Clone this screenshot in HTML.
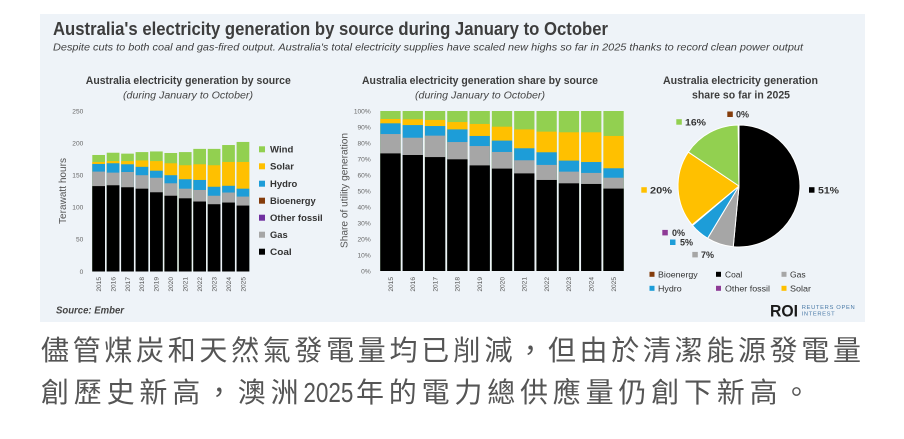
<!DOCTYPE html>
<html>
<head>
<meta charset="utf-8">
<style>
html,body{margin:0;padding:0;background:#fff;}
svg{display:block;}
text{font-family:"Liberation Sans",sans-serif;}
.cjk{font-family:"Liberation Sans","Noto Sans CJK TC",sans-serif;}
.tk{font-size:6.6px;fill:#666;}
.yr{font-size:6.6px;fill:#555;}
.lg{font-size:9.5px;font-weight:bold;fill:#333;}
.pl{font-size:9px;font-weight:bold;fill:#333;}
.pg{font-size:8.5px;fill:#333;}
</style>
</head>
<body>
<svg width="904" height="439" viewBox="0 0 904 439" xmlns="http://www.w3.org/2000/svg">
<rect x="40" y="14" width="825" height="308" fill="#eef3f8"/>

<text x="53" y="35" font-size="18.5" font-weight="bold" fill="#3d3d3d" textLength="555" lengthAdjust="spacingAndGlyphs">Australia's electricity generation by source during January to October</text>
<text x="53" y="50.5" font-size="10.5" font-style="italic" fill="#404040" textLength="750" lengthAdjust="spacingAndGlyphs">Despite cuts to both coal and gas-fired output. Australia's total electricity supplies have scaled new highs so far in 2025 thanks to record clean power output</text>

<!-- chart titles -->
<text x="188.3" y="84" text-anchor="middle" font-size="11" font-weight="bold" fill="#3d3d3d" textLength="205" lengthAdjust="spacingAndGlyphs">Australia electricity generation by source</text>
<text x="188" y="98.5" text-anchor="middle" font-size="10" font-style="italic" fill="#444" textLength="130" lengthAdjust="spacingAndGlyphs">(during January to October)</text>
<text x="480" y="84" text-anchor="middle" font-size="11" font-weight="bold" fill="#3d3d3d" textLength="236" lengthAdjust="spacingAndGlyphs">Australia electricity generation share by source</text>
<text x="480" y="98.5" text-anchor="middle" font-size="10" font-style="italic" fill="#444" textLength="130" lengthAdjust="spacingAndGlyphs">(during January to October)</text>
<text x="740.5" y="84" text-anchor="middle" font-size="11" font-weight="bold" fill="#3d3d3d" textLength="155" lengthAdjust="spacingAndGlyphs">Australia electricity generation</text>
<text x="741" y="98.5" text-anchor="middle" font-size="11" font-weight="bold" fill="#3d3d3d" textLength="98" lengthAdjust="spacingAndGlyphs">share so far in 2025</text>

<!-- LEFT CHART -->
<g text-anchor="end" class="tk">
<text class="tk" x="83.3" y="273.8">0</text>
<text class="tk" x="83.3" y="241.7">50</text>
<text class="tk" x="83.3" y="209.6">100</text>
<text class="tk" x="83.3" y="177.5">150</text>
<text class="tk" x="83.3" y="145.4">200</text>
<text class="tk" x="83.3" y="113.3">250</text>
</g>
<text transform="translate(66.2 191) rotate(-90)" text-anchor="middle" font-size="10" fill="#555" textLength="66" lengthAdjust="spacingAndGlyphs">Terawatt hours</text>

<g transform="translate(92.3 0)"><rect y="154.98" width="12.7" height="116.52" fill="#92d050"/><rect y="161.97" width="12.7" height="109.53" fill="#ffc000"/><rect y="163.96" width="12.7" height="107.54" fill="#1d9dd8"/><rect y="171.6" width="12.7" height="99.9" fill="#a6a6a6"/><rect y="186.11" width="12.7" height="85.39" fill="#000"/></g>
<g transform="translate(106.73 0)"><rect y="152.73" width="12.7" height="118.77" fill="#92d050"/><rect y="161.08" width="12.7" height="110.42" fill="#ffc000"/><rect y="163.26" width="12.7" height="108.24" fill="#1d9dd8"/><rect y="172.63" width="12.7" height="98.87" fill="#a6a6a6"/><rect y="185.28" width="12.7" height="86.22" fill="#000"/></g>
<g transform="translate(121.16 0)"><rect y="153.63" width="12.7" height="117.87" fill="#92d050"/><rect y="161.08" width="12.7" height="110.42" fill="#ffc000"/><rect y="164.29" width="12.7" height="107.21" fill="#1d9dd8"/><rect y="171.99" width="12.7" height="99.51" fill="#a6a6a6"/><rect y="187.27" width="12.7" height="84.23" fill="#000"/></g>
<g transform="translate(135.59 0)"><rect y="152.09" width="12.7" height="119.41" fill="#92d050"/><rect y="160.43" width="12.7" height="111.07" fill="#ffc000"/><rect y="166.85" width="12.7" height="104.65" fill="#1d9dd8"/><rect y="175.2" width="12.7" height="96.3" fill="#a6a6a6"/><rect y="188.68" width="12.7" height="82.82" fill="#000"/></g>
<g transform="translate(150.02 0)"><rect y="151.45" width="12.7" height="120.05" fill="#92d050"/><rect y="161.08" width="12.7" height="110.42" fill="#ffc000"/><rect y="170.71" width="12.7" height="100.79" fill="#1d9dd8"/><rect y="177.77" width="12.7" height="93.73" fill="#a6a6a6"/><rect y="192.28" width="12.7" height="79.22" fill="#000"/></g>
<g transform="translate(164.45 0)"><rect y="152.99" width="12.7" height="118.51" fill="#92d050"/><rect y="163.26" width="12.7" height="108.24" fill="#ffc000"/><rect y="175.2" width="12.7" height="96.3" fill="#1d9dd8"/><rect y="183.29" width="12.7" height="88.21" fill="#a6a6a6"/><rect y="195.74" width="12.7" height="75.76" fill="#000"/></g>
<g transform="translate(178.88 0)"><rect y="152.09" width="12.7" height="119.41" fill="#92d050"/><rect y="165.25" width="12.7" height="106.25" fill="#ffc000"/><rect y="179.24" width="12.7" height="92.26" fill="#1d9dd8"/><rect y="188.68" width="12.7" height="82.82" fill="#a6a6a6"/><rect y="198.31" width="12.7" height="73.19" fill="#000"/></g>
<g transform="translate(193.31 0)"><rect y="148.88" width="12.7" height="122.62" fill="#92d050"/><rect y="164.29" width="12.7" height="107.21" fill="#ffc000"/><rect y="179.95" width="12.7" height="91.55" fill="#1d9dd8"/><rect y="189.97" width="12.7" height="81.53" fill="#a6a6a6"/><rect y="201.52" width="12.7" height="69.98" fill="#000"/></g>
<g transform="translate(207.74 0)"><rect y="148.88" width="12.7" height="122.62" fill="#92d050"/><rect y="165.25" width="12.7" height="106.25" fill="#ffc000"/><rect y="186.76" width="12.7" height="84.74" fill="#1d9dd8"/><rect y="195.74" width="12.7" height="75.76" fill="#a6a6a6"/><rect y="204.22" width="12.7" height="67.28" fill="#000"/></g>
<g transform="translate(222.17 0)"><rect y="145.03" width="12.7" height="126.47" fill="#92d050"/><rect y="161.97" width="12.7" height="109.53" fill="#ffc000"/><rect y="185.79" width="12.7" height="85.71" fill="#1d9dd8"/><rect y="192.53" width="12.7" height="78.97" fill="#a6a6a6"/><rect y="202.55" width="12.7" height="68.95" fill="#000"/></g>
<g transform="translate(236.6 0)"><rect y="141.94" width="12.7" height="129.56" fill="#92d050"/><rect y="161.97" width="12.7" height="109.53" fill="#ffc000"/><rect y="188.68" width="12.7" height="82.82" fill="#1d9dd8"/><rect y="196.58" width="12.7" height="74.92" fill="#a6a6a6"/><rect y="205.57" width="12.7" height="65.93" fill="#000"/></g>

<g text-anchor="end">
<text class="yr" transform="translate(101 277) rotate(-90)">2015</text>
<text class="yr" transform="translate(115.4 277) rotate(-90)">2016</text>
<text class="yr" transform="translate(129.8 277) rotate(-90)">2017</text>
<text class="yr" transform="translate(144.2 277) rotate(-90)">2018</text>
<text class="yr" transform="translate(158.7 277) rotate(-90)">2019</text>
<text class="yr" transform="translate(173.1 277) rotate(-90)">2020</text>
<text class="yr" transform="translate(187.5 277) rotate(-90)">2021</text>
<text class="yr" transform="translate(202 277) rotate(-90)">2022</text>
<text class="yr" transform="translate(216.4 277) rotate(-90)">2023</text>
<text class="yr" transform="translate(230.8 277) rotate(-90)">2024</text>
<text class="yr" transform="translate(245.3 277) rotate(-90)">2025</text>
</g>

<!-- left legend -->
<rect x="259" y="146.3" width="6" height="6" fill="#92d050"/><text class="lg" x="270" y="152.6" textLength="23.3" lengthAdjust="spacingAndGlyphs">Wind</text>
<rect x="259" y="163.3" width="6" height="6" fill="#ffc000"/><text class="lg" x="270" y="169.6" textLength="24" lengthAdjust="spacingAndGlyphs">Solar</text>
<rect x="259" y="180.7" width="6" height="6" fill="#1d9dd8"/><text class="lg" x="270" y="187" textLength="27.3" lengthAdjust="spacingAndGlyphs">Hydro</text>
<rect x="259" y="197.7" width="6" height="6" fill="#843c0c"/><text class="lg" x="270" y="204" textLength="45.7" lengthAdjust="spacingAndGlyphs">Bioenergy</text>
<rect x="259" y="214.7" width="6" height="6" fill="#7030a0"/><text class="lg" x="270" y="221" textLength="52.7" lengthAdjust="spacingAndGlyphs">Other fossil</text>
<rect x="259" y="231.7" width="6" height="6" fill="#a6a6a6"/><text class="lg" x="270" y="238" textLength="17.7" lengthAdjust="spacingAndGlyphs">Gas</text>
<rect x="259" y="248.7" width="6" height="6" fill="#000"/><text class="lg" x="270" y="255" textLength="21.7" lengthAdjust="spacingAndGlyphs">Coal</text>

<text x="56" y="313.5" font-size="10" font-style="italic" font-weight="bold" fill="#444" textLength="68" lengthAdjust="spacingAndGlyphs">Source: Ember</text>

<!-- MIDDLE CHART -->
<g text-anchor="end">
<text class="tk" x="370.7" y="273.3">0%</text>
<text class="tk" x="370.7" y="257.3">10%</text>
<text class="tk" x="370.7" y="241.3">20%</text>
<text class="tk" x="370.7" y="225.3">30%</text>
<text class="tk" x="370.7" y="209.3">40%</text>
<text class="tk" x="370.7" y="193.3">50%</text>
<text class="tk" x="370.7" y="177.3">60%</text>
<text class="tk" x="370.7" y="161.3">70%</text>
<text class="tk" x="370.7" y="145.3">80%</text>
<text class="tk" x="370.7" y="129.3">90%</text>
<text class="tk" x="370.7" y="113.3">100%</text>
</g>
<text transform="translate(347.6 190.5) rotate(-90)" text-anchor="middle" font-size="10" fill="#555" textLength="115" lengthAdjust="spacingAndGlyphs">Share of utility generation</text>

<g transform="translate(380.3 0)"><rect y="111" width="20.3" height="160" fill="#92d050"/><rect y="119" width="20.3" height="152" fill="#ffc000"/><rect y="123.32" width="20.3" height="147.68" fill="#1d9dd8"/><rect y="134.04" width="20.3" height="136.96" fill="#a6a6a6"/><rect y="153.4" width="20.3" height="117.6" fill="#000"/></g>
<g transform="translate(402.61 0)"><rect y="111" width="20.3" height="160" fill="#92d050"/><rect y="119.32" width="20.3" height="151.68" fill="#ffc000"/><rect y="125.08" width="20.3" height="145.92" fill="#1d9dd8"/><rect y="137.72" width="20.3" height="133.28" fill="#a6a6a6"/><rect y="155" width="20.3" height="116" fill="#000"/></g>
<g transform="translate(424.92 0)"><rect y="111" width="20.3" height="160" fill="#92d050"/><rect y="119.96" width="20.3" height="151.04" fill="#ffc000"/><rect y="126.04" width="20.3" height="144.96" fill="#1d9dd8"/><rect y="135.64" width="20.3" height="135.36" fill="#a6a6a6"/><rect y="157.08" width="20.3" height="113.92" fill="#000"/></g>
<g transform="translate(447.23 0)"><rect y="111" width="20.3" height="160" fill="#92d050"/><rect y="122.04" width="20.3" height="148.96" fill="#ffc000"/><rect y="129.4" width="20.3" height="141.6" fill="#1d9dd8"/><rect y="142.04" width="20.3" height="128.96" fill="#a6a6a6"/><rect y="159.32" width="20.3" height="111.68" fill="#000"/></g>
<g transform="translate(469.54 0)"><rect y="111" width="20.3" height="160" fill="#92d050"/><rect y="123.96" width="20.3" height="147.04" fill="#ffc000"/><rect y="135.96" width="20.3" height="135.04" fill="#1d9dd8"/><rect y="146.04" width="20.3" height="124.96" fill="#a6a6a6"/><rect y="165.4" width="20.3" height="105.6" fill="#000"/></g>
<g transform="translate(491.85 0)"><rect y="111" width="20.3" height="160" fill="#92d050"/><rect y="126.68" width="20.3" height="144.32" fill="#ffc000"/><rect y="140.6" width="20.3" height="130.4" fill="#1d9dd8"/><rect y="151.96" width="20.3" height="119.04" fill="#a6a6a6"/><rect y="168.6" width="20.3" height="102.4" fill="#000"/></g>
<g transform="translate(514.16 0)"><rect y="111" width="20.3" height="160" fill="#92d050"/><rect y="129.4" width="20.3" height="141.6" fill="#ffc000"/><rect y="148.28" width="20.3" height="122.72" fill="#1d9dd8"/><rect y="160.28" width="20.3" height="110.72" fill="#a6a6a6"/><rect y="173.4" width="20.3" height="97.6" fill="#000"/></g>
<g transform="translate(536.47 0)"><rect y="111" width="20.3" height="160" fill="#92d050"/><rect y="131.64" width="20.3" height="139.36" fill="#ffc000"/><rect y="152.28" width="20.3" height="118.72" fill="#1d9dd8"/><rect y="164.92" width="20.3" height="106.08" fill="#a6a6a6"/><rect y="179.96" width="20.3" height="91.04" fill="#000"/></g>
<g transform="translate(558.78 0)"><rect y="111" width="20.3" height="160" fill="#92d050"/><rect y="132.28" width="20.3" height="138.72" fill="#ffc000"/><rect y="160.6" width="20.3" height="110.4" fill="#1d9dd8"/><rect y="171.64" width="20.3" height="99.36" fill="#a6a6a6"/><rect y="183.32" width="20.3" height="87.68" fill="#000"/></g>
<g transform="translate(581.09 0)"><rect y="111" width="20.3" height="160" fill="#92d050"/><rect y="132.28" width="20.3" height="138.72" fill="#ffc000"/><rect y="162.04" width="20.3" height="108.96" fill="#1d9dd8"/><rect y="172.92" width="20.3" height="98.08" fill="#a6a6a6"/><rect y="183.96" width="20.3" height="87.04" fill="#000"/></g>
<g transform="translate(603.4 0)"><rect y="111" width="20.3" height="160" fill="#92d050"/><rect y="135.96" width="20.3" height="135.04" fill="#ffc000"/><rect y="168.28" width="20.3" height="102.72" fill="#1d9dd8"/><rect y="177.72" width="20.3" height="93.28" fill="#a6a6a6"/><rect y="188.6" width="20.3" height="82.4" fill="#000"/></g>

<g text-anchor="end">
<text class="yr" transform="translate(392.8 277) rotate(-90)">2015</text>
<text class="yr" transform="translate(415.1 277) rotate(-90)">2016</text>
<text class="yr" transform="translate(437.4 277) rotate(-90)">2017</text>
<text class="yr" transform="translate(459.7 277) rotate(-90)">2018</text>
<text class="yr" transform="translate(482 277) rotate(-90)">2019</text>
<text class="yr" transform="translate(504.3 277) rotate(-90)">2020</text>
<text class="yr" transform="translate(526.6 277) rotate(-90)">2021</text>
<text class="yr" transform="translate(548.9 277) rotate(-90)">2022</text>
<text class="yr" transform="translate(571.2 277) rotate(-90)">2023</text>
<text class="yr" transform="translate(593.5 277) rotate(-90)">2024</text>
<text class="yr" transform="translate(615.8 277) rotate(-90)">2025</text>
</g>

<!-- PIE -->
<g stroke="#ffffff" stroke-width="1" stroke-linejoin="round">
<path d="M739 186 L739 125 A61 61 0 1 1 733.26 246.73 Z" fill="#000"/>
<path d="M739 186 L733.26 246.73 A61 61 0 0 1 707.62 238.31 Z" fill="#a6a6a6"/>
<path d="M739 186 L707.62 238.31 A61 61 0 0 1 692.5 225.48 Z" fill="#1d9dd8"/>
<path d="M739 186 L692.5 225.48 A61 61 0 0 1 692 224.88 Z" fill="#8e3a96"/>
<path d="M739 186 L692 224.88 A61 61 0 0 1 688.34 152.03 Z" fill="#ffc000"/>
<path d="M739 186 L688.34 152.03 A61 61 0 0 1 738.23 125 Z" fill="#92d050"/>
<path d="M739 186 L738.23 125 A61 61 0 0 1 739 125 Z" fill="#843c0c"/>
</g>

<rect x="727.3" y="111.5" width="5.5" height="5.5" fill="#843c0c"/><text class="pl" x="736" y="117.6">0%</text>
<rect x="676.3" y="119.2" width="5.5" height="5.5" fill="#92d050"/><text class="pl" x="685" y="125.3" textLength="21" lengthAdjust="spacingAndGlyphs">16%</text>
<rect x="641.3" y="187.2" width="5.5" height="5.5" fill="#ffc000"/><text class="pl" x="650" y="193.3" textLength="22" lengthAdjust="spacingAndGlyphs">20%</text>
<rect x="809" y="187.2" width="5.5" height="5.5" fill="#000"/><text class="pl" x="818" y="193.3" textLength="21" lengthAdjust="spacingAndGlyphs">51%</text>
<rect x="662.3" y="229.9" width="5.5" height="5.5" fill="#8e3a96"/><text class="pl" x="672" y="236">0%</text>
<rect x="670" y="239.5" width="5.5" height="5.5" fill="#1d9dd8"/><text class="pl" x="680" y="245.6">5%</text>
<rect x="692.3" y="251.9" width="5.5" height="5.5" fill="#a6a6a6"/><text class="pl" x="701" y="258">7%</text>

<!-- pie legend -->
<rect x="649.5" y="271.8" width="5" height="5" fill="#843c0c"/><text class="pg" x="658" y="277.3" textLength="39.7" lengthAdjust="spacingAndGlyphs">Bioenergy</text>
<rect x="716" y="271.8" width="5" height="5" fill="#000"/><text class="pg" x="725" y="277.3" textLength="17.3" lengthAdjust="spacingAndGlyphs">Coal</text>
<rect x="781.5" y="271.8" width="5" height="5" fill="#a6a6a6"/><text class="pg" x="790" y="277.3" textLength="15.7" lengthAdjust="spacingAndGlyphs">Gas</text>
<rect x="649.5" y="285.8" width="5" height="5" fill="#1d9dd8"/><text class="pg" x="658" y="291.3" textLength="23.7" lengthAdjust="spacingAndGlyphs">Hydro</text>
<rect x="716" y="285.8" width="5" height="5" fill="#8e3a96"/><text class="pg" x="725" y="291.3" textLength="45" lengthAdjust="spacingAndGlyphs">Other fossil</text>
<rect x="781.5" y="285.8" width="5" height="5" fill="#ffc000"/><text class="pg" x="790" y="291.3" textLength="21" lengthAdjust="spacingAndGlyphs">Solar</text>

<!-- ROI logo -->
<text x="770" y="316.5" font-size="17" font-weight="bold" fill="#1a1a1a" textLength="28" lengthAdjust="spacingAndGlyphs">ROI</text>
<text x="801.7" y="308.8" font-size="5.8" fill="#4a7aa7" textLength="53" lengthAdjust="spacing">REUTERS OPEN</text>
<text x="801.7" y="315.6" font-size="5.8" fill="#4a7aa7" textLength="33" lengthAdjust="spacing">INTEREST</text>

<!-- Chinese caption -->
<text class="cjk" x="41" y="360" font-size="28" fill="#555" textLength="820" lengthAdjust="spacing">儘管煤炭和天然氣發電量均已削減，但由於清潔能源發電量</text>
<text class="cjk" x="41" y="402" font-size="28" fill="#555" letter-spacing="4.8">創歷史新高，澳洲</text>
<text class="cjk" x="303.4" y="402" font-size="28" fill="#555" textLength="50" lengthAdjust="spacingAndGlyphs">2025</text>
<text class="cjk" x="356" y="402" font-size="28" fill="#555" letter-spacing="4.8">年的電力總供應量仍創下新高。</text>
</svg>
</body>
</html>
